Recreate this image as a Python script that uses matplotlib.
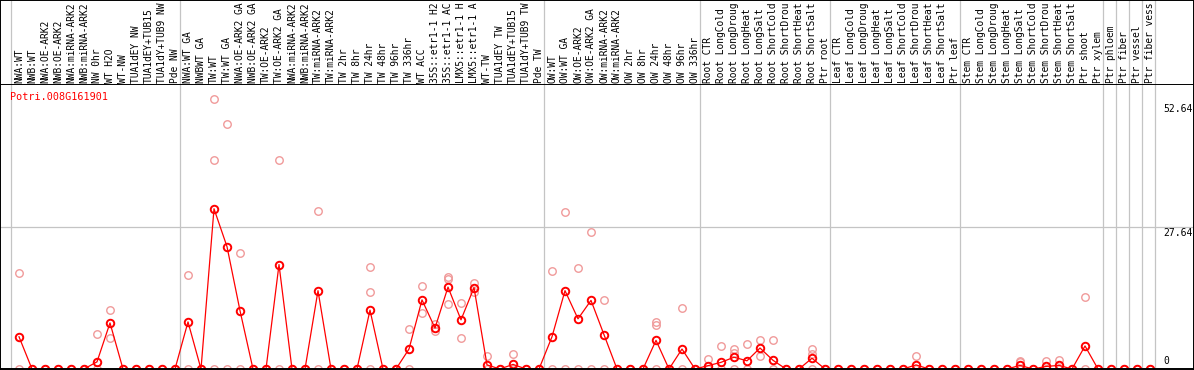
import numpy as np
import matplotlib
matplotlib.use("Agg")
import matplotlib.pyplot as plt
import matplotlib.transforms as mtransforms

# =================== data ===================
gene = "Potri.008G161901"

# labels as far as the header shows them (14 characters at most)
sample_labels = [
    "NWA:WT", "NWB:WT", "NWA:OE-ARK2", "NWB:OE-ARK2", "NWA:miRNA-ARK2", "NWB:miRNA-ARK2",
    "NW 0hr", "WT H2O", "WT-NW", "TUA1dEY NW", "TUA1dEY+TUB15", "TUA1dY+TUB9 NW", "Pde NW",
    "NWA:WT GA", "NWBWT GA", "TW:WT", "TW:WT GA", "NWA:OE-ARK2 GA", "NWB:OE-ARK2 GA",
    "TW:OE-ARK2", "TW:OE-ARK2 GA", "NWA:miRNA-ARK2", "NWB:miRNA-ARK2", "TW:miRNA-ARK2",
    "TW:miRNA-ARK2", "TW 2hr", "TW 8hr", "TW 24hr", "TW 48hr", "TW 96hr", "TW 336hr",
    "WT ACC", "35S::etr1-1 H2", "35S::etr1-1 AC", "LMX5::etr1-1 H", "LMX5::etr1-1 A",
    "WT-TW", "TUA1dEY TW", "TUA1dEY+TUB15", "TUA1dY+TUB9 TW", "Pde TW",
    "OW:WT", "OW:WT GA", "OW:OE-ARK2", "OW:OE-ARK2 GA", "OW:miRNA-ARK2", "OW:miRNA-ARK2",
    "OW 2hr", "OW 8hr", "OW 24hr", "OW 48hr", "OW 96hr", "OW 336hr",
    "Root CTR", "Root LongCold", "Root LongDroug", "Root LongHeat", "Root LongSalt",
    "Root ShortCold", "Root ShortDrou", "Root ShortHeat", "Root ShortSalt", "Ptr root",
    "Leaf CTR", "Leaf LongCold", "Leaf LongDroug", "Leaf LongHeat", "Leaf LongSalt",
    "Leaf ShortCold", "Leaf ShortDrou", "Leaf ShortHeat", "Leaf ShortSalt", "Ptr leaf",
    "Stem CTR", "Stem LongCold", "Stem LongDroug", "Stem LongHeat", "Stem LongSalt",
    "Stem ShortCold", "Stem ShortDrou", "Stem ShortHeat", "Stem ShortSalt", "Ptr shoot",
    "Ptr xylem", "Ptr phloem", "Ptr fiber", "Ptr vessel", "Ptr fiber vess",
]

group_sizes = [13, 28, 12, 10, 10, 11, 1, 1, 1, 1]

mean_values = [
    6.3, 0, 0, 0, 0, 0, 1.4, 9.0, 0, 0, 0, 0, 0,
    9.2, 0, 31.3, 23.9, 11.4, 0, 0, 20.4, 0, 0, 15.3, 0, 0, 0, 11.5, 0, 0, 3.9,
    13.5, 8.0, 16.0, 9.6, 15.9, 0.8, 0, 0.9, 0, 0,
    6.3, 15.3, 9.8, 13.4, 6.7, 0, 0, 0, 5.6, 0, 3.9, 0,
    0.65, 1.3, 2.3, 1.6, 4.1, 1.7, 0, 0, 2.1, 0,
    0, 0, 0, 0, 0, 0, 0.8, 0, 0, 0,
    0, 0, 0, 0, 0.7, 0, 0.5, 0.7, 0, 4.5, 0,
    0, 0, 0, 0,
]

replicate_values = [
    [18.8, 0], [0], [0], [0], [0], [0], [6.9, 0], [11.5, 6.0], [0], [0], [0], [0], [0],
    [18.3, 0], [0], [52.64, 40.8, 0], [47.8, 0], [22.7, 0], [0], [0], [40.8, 0], [0], [0],
    [30.8, 0], [0], [0], [0], [20.0, 15.1, 0], [0], [0], [7.9, 0],
    [16.2, 10.9], [8.8, 7.5], [17.9, 17.5, 12.7], [12.9, 6.0], [16.8, 15.1],
    [2.6, 0], [0], [2.9, 0], [0], [0],
    [19.1, 0], [30.6, 0], [19.8, 0], [26.7, 0], [13.4, 0], [0], [0], [0],
    [9.2, 8.5, 0], [0], [11.9, 0], [0],
    [1.9, 0], [4.5, 0], [3.9, 3.2, 0], [4.9, 0], [5.6, 2.6], [5.6, 0], [0], [0],
    [3.9, 2.9, 0], [0],
    [0], [0], [0], [0], [0], [0], [2.6, 0], [0], [0], [0],
    [0], [0], [0], [0], [1.6, 1.3], [0], [1.6, 0], [1.8, 0], [0], [14.0, 0], [0],
    [0], [0], [0], [0],
]

y_marks = [0, 27.64, 52.64]
y_mark_labels = ["0", "27.64", "52.64"]

# =================== layout ===================
W, H = 1194, 370
HEAD = 85
mono = "DejaVu Sans Mono"
grid_col = "#c4c4c4"
light_red = "#f09a9a"

fig = plt.figure(figsize=(W / 100, H / 100), dpi=100)
head = fig.add_axes([0, (H - HEAD) / H, 1, HEAD / H])
ax = fig.add_axes([0, 1 / H, 1, (H - HEAD - 1) / H])

x = np.arange(len(sample_labels))
xlim = (-19 / 13, (W - 19) / 13)
for a in (head, ax):
    a.set_xlim(*xlim)
    a.set_xticks([])
    a.set_yticks([])
    a.set_facecolor("white")
    for sp in a.spines.values():
        sp.set_color("black")
        sp.set_linewidth(1.4)
        sp.set_zorder(6)
ax.spines["top"].set_visible(False)
head.set_ylim(0, 1)

# px per unit ~5.12, baseline at the axes bottom
ax.set_ylim(0, (H - HEAD - 1) / 5.12)

# group separators
bounds = np.concatenate([[0], np.cumsum(group_sizes)]) - 0.6
for b in bounds:
    head.axvline(b, color=grid_col, lw=0.9, zorder=1)
    ax.axvline(b, color=grid_col, lw=0.9, zorder=1)
ax.axhline(y_marks[1], color=grid_col, lw=0.9, zorder=1)

# header labels
for i, lab in enumerate(sample_labels):
    head.text(i, 2 / HEAD, lab, rotation=90, ha="center", va="bottom",
              fontsize=6.9, family=mono)

# replicates
rx = np.concatenate([[i] * len(v) for i, v in enumerate(replicate_values)])
ry = np.concatenate(replicate_values)
ax.plot(rx, ry, "o", mfc="none", mec=light_red, ms=5.4, mew=1.0, zorder=2, clip_on=False)

# means
ax.plot(x, mean_values, "-", color="red", lw=0.9, zorder=3, clip_on=False)
ax.plot(x, mean_values, "o", mfc="none", mec="red", ms=5.4, mew=1.4, zorder=4, clip_on=False)

ax.text(10 / W, 1 - 12 / (H - HEAD), gene, transform=ax.transAxes, color="red",
        ha="left", va="center", fontsize=7.3, family=mono)

trans = mtransforms.blended_transform_factory(ax.transAxes, ax.transData)
offsets = [(3, "bottom"), (-1, "top"), (-5, "top")]
for v, lab, (off, va) in zip(y_marks, y_mark_labels, offsets):
    ax.annotate(lab, xy=(1163 / W, v), xycoords=trans, xytext=(0, off),
                textcoords="offset pixels", ha="left", va=va, fontsize=7, family=mono)

fig.savefig("out.png", dpi=100)
plt.close(fig)
